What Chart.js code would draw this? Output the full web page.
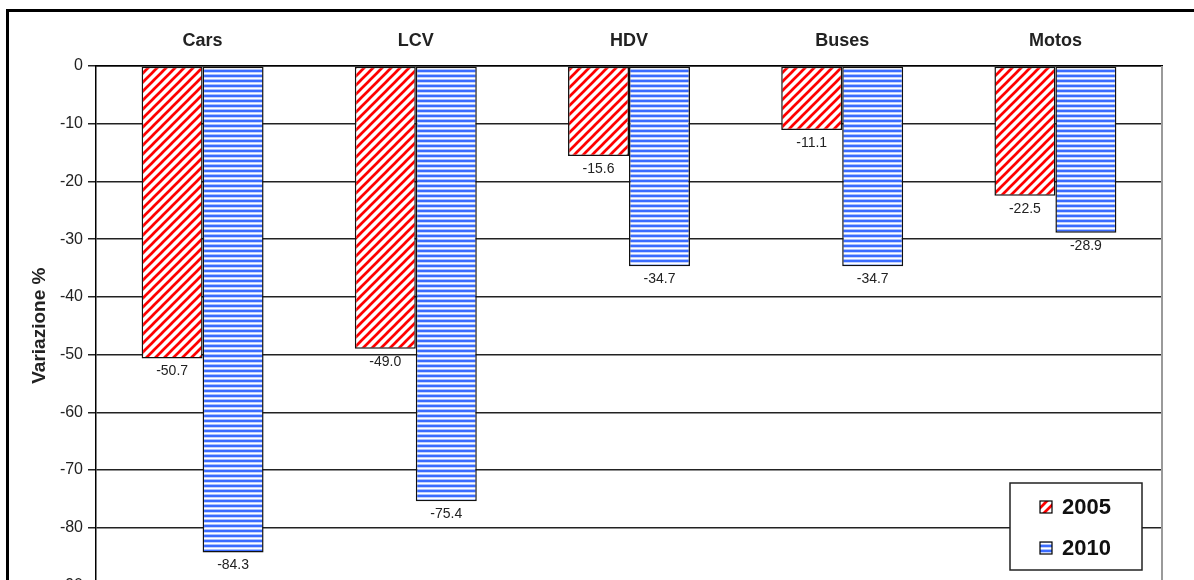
<!DOCTYPE html>
<html>
<head>
<meta charset="utf-8">
<script src="https://cdn.jsdelivr.net/npm/chart.js@4.4.1/dist/chart.umd.min.js"></script>
<style>
  html, body { margin: 0; padding: 0; background: #fff; overflow: hidden; }
  #frame { position: absolute; left: 6px; top: 9px; width: 1300px; height: 700px;
           border-left: 3px solid #000; border-top: 3px solid #000; pointer-events: none; }
  #wrap { position: absolute; left: 0; top: 0; width: 1194px; height: 600px; }
</style>
</head>
<body>
<div id="wrap"><canvas id="chart"></canvas></div>
<div id="frame"></div>
<script>
const CATEGORIES = ['Cars', 'LCV', 'HDV', 'Buses', 'Motos'];
const SERIES_2005 = [-50.7, -49.0, -15.6, -11.1, -22.5];
const SERIES_2010 = [-84.3, -75.4, -34.7, -34.7, -28.9];
const Y_TICKS = [0, -10, -20, -30, -40, -50, -60, -70, -80, -90];

const FONT = '"Liberation Sans", Arial, sans-serif';
const INK = '#222';

// red "/" hatch on white
function hatchRed() {
  const s = 9;
  const c = document.createElement('canvas');
  c.width = s; c.height = s;
  const g = c.getContext('2d');
  g.fillStyle = '#fff';
  g.fillRect(0, 0, s, s);
  g.strokeStyle = '#ff0000';
  g.lineWidth = 2.7;
  g.lineCap = 'square';
  [[-1, 1, 1, -1], [0, s, s, 0], [s - 1, s + 1, s + 1, s - 1]].forEach(([x1, y1, x2, y2]) => {
    g.beginPath(); g.moveTo(x1, y1); g.lineTo(x2, y2); g.stroke();
  });
  return g.createPattern(c, 'repeat');
}

// blue horizontal stripes
function stripesBlue() {
  const rows = ['#3b6cff', '#3b6cff', '#c3d3ff', '#ffffff', '#a9c0ff'];
  const c = document.createElement('canvas');
  c.width = 4; c.height = rows.length;
  const g = c.getContext('2d');
  rows.forEach((col, i) => { g.fillStyle = col; g.fillRect(0, i, 4, 1); });
  return g.createPattern(c, 'repeat');
}

const PAT_2005 = hatchRed();
const PAT_2010 = stripesBlue();

// value labels under each bar end
const valueLabels = {
  id: 'valueLabels',
  afterDatasetsDraw(chart) {
    const ctx = chart.ctx;
    ctx.save();
    ctx.font = '14px ' + FONT;
    ctx.fillStyle = INK;
    ctx.textAlign = 'center';
    ctx.textBaseline = 'middle';
    chart.data.datasets.forEach((ds, i) => {
      chart.getDatasetMeta(i).data.forEach((bar, j) => {
        ctx.fillText(ds.data[j].toFixed(1), bar.x, bar.y + 13);
      });
    });
    ctx.restore();
  }
};

// grey right edge of the plot area + boxed legend in the lower right
const plotExtras = {
  id: 'plotExtras',
  afterDraw(chart) {
    const ctx = chart.ctx;
    const a = chart.chartArea;
    ctx.save();
    ctx.strokeStyle = '#9a9a9a';
    ctx.lineWidth = 2;
    ctx.beginPath();
    ctx.moveTo(a.right, a.top);
    ctx.lineTo(a.right, a.bottom);
    ctx.stroke();

    const w = 132, h = 87;
    const lx = a.right - 152, ly = a.top + 417;
    ctx.fillStyle = '#fff';
    ctx.fillRect(lx, ly, w, h);
    ctx.strokeStyle = '#222';
    ctx.lineWidth = 1.5;
    ctx.strokeRect(lx, ly, w, h);

    ctx.font = 'bold 22px ' + FONT;
    ctx.textBaseline = 'middle';
    ctx.textAlign = 'left';
    chart.data.datasets.forEach((ds, i) => {
      const cy = ly + 24 + i * 41;
      ctx.fillStyle = ds.backgroundColor;
      ctx.fillRect(lx + 30, cy - 6, 12, 12);
      ctx.strokeStyle = '#000';
      ctx.lineWidth = 1.2;
      ctx.strokeRect(lx + 30, cy - 6, 12, 12);
      ctx.fillStyle = '#111';
      ctx.fillText(ds.label, lx + 52, cy + 1);
    });
    ctx.restore();
  }
};

new Chart(document.getElementById('chart'), {
  type: 'bar',
  data: {
    labels: CATEGORIES,
    datasets: [
      { label: '2005', data: SERIES_2005, backgroundColor: PAT_2005 },
      { label: '2010', data: SERIES_2010, backgroundColor: PAT_2010 },
    ],
  },
  options: {
    responsive: true, maintainAspectRatio: false, animation: false,
    categoryPercentage: 0.572, barPercentage: 1.0,
    datasets: { bar: { borderColor: '#111', borderWidth: 1.5, borderSkipped: false } },
    layout: { padding: { left: 12, right: 32, top: 0, bottom: 0 } },
    plugins: { legend: { display: false }, tooltip: { enabled: false } },
    scales: {
      x: {
        position: 'top',
        grid: { display: false },
        border: { display: true, color: '#000', width: 1.5 },
        ticks: { font: { family: FONT, size: 18, weight: 'bold' }, color: INK, padding: 6 },
        afterFit: s => { s.height = 66; },
      },
      y: {
        min: -90, max: 0,
        afterBuildTicks: s => { s.ticks = Y_TICKS.map(v => ({ value: v })); },
        grid: { color: '#222', lineWidth: 1.5, tickLength: 8 },
        border: { display: true, color: '#000', width: 1.5 },
        ticks: { font: { family: FONT, size: 16 }, color: INK, padding: 5 },
        title: {
          display: true, text: 'Variazione %', color: INK,
          font: { family: FONT, size: 19, weight: 'bold' },
          padding: { top: 16, bottom: 0 },
        },
        afterFit: s => { s.width = 84; },
      },
    },
  },
  plugins: [valueLabels, plotExtras],
});
</script>
</body>
</html>
